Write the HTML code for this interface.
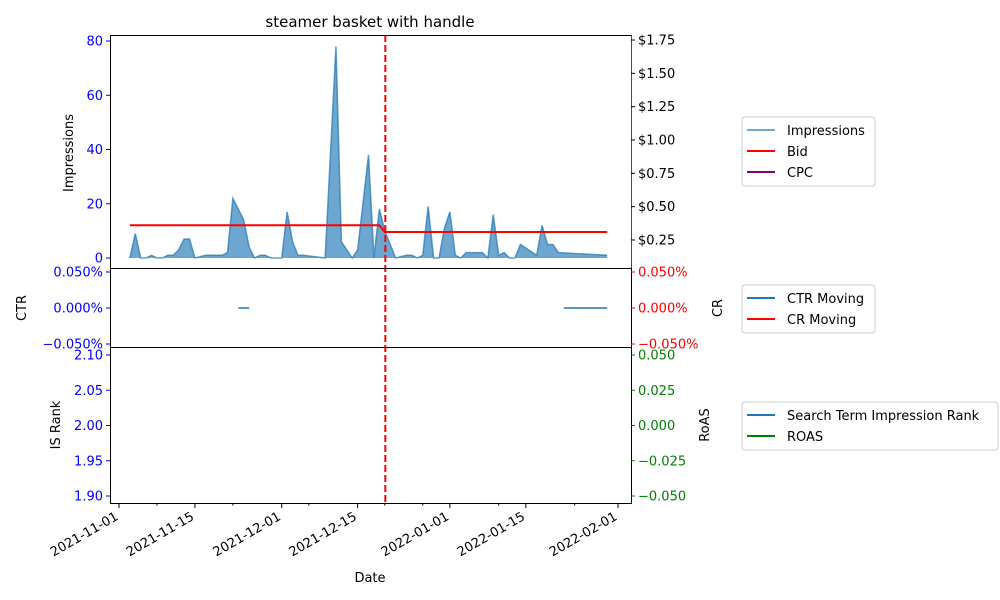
<!DOCTYPE html>
<html><head><meta charset="utf-8">
<style>
body{margin:0;background:#fff;}
svg{display:block;font-family:"DejaVu Sans","Liberation Sans",sans-serif;}
</style></head>
<body>
<svg id="c" width="1000" height="600" viewBox="0 0 1000 600"></svg>
<script>
// ---- data ----
const impDays = [2,3,4,5,6,7,8,9,10,11,12,13,14,16,19,20,21,23,24,25,26,27,28,30,31,32,33,34,38,40,41,43,44,46,47,48,49,51,53,54,55,56,57,58,59,60,61,62,63,64,67,68,69,70,71,72,73,74,77,78,79,80,81,90];
const impVals = [0,9,0,0,1,0,0,1,1,3,7,7,0,1,1,2,22,14,4,0,1,1,0,0,17,6,1,1,0,78,6,0,3,38,0,18,10,0,1,1,0,1,19,0,0,11,17,1,0,2,2,0,16,1,2,0,0,5,1,12,5,5,2,1];
const bidDays = [2,48,49,90];
const bidVals = [0.36,0.36,0.31,0.31];
const ctrSegStart = [22,82];
const ctrSegEnd = [24,90];
const ctrSegVal = [0,0];
const markerDay = 49.1;
const xTickDays = [0,14,30,44,61,75,92];
const xTickLabels = ["2021-11-01","2021-11-15","2021-12-01","2021-12-15","2022-01-01","2022-01-15","2022-02-01"];
const impTicks = [0,20,40,60,80];
const bidTicks = [0.25,0.5,0.75,1.0,1.25,1.5,1.75];
const pctTicks = [0.05,0,-0.05];
const rankTicks = [1.90,1.95,2.00,2.05,2.10];
const roasTicks = [-0.05,-0.025,0,0.025,0.05];

// ---- scales ----
const L=110,R=631;
const X=d=>119+d*5.424;
const T1=35,B1=268,T2=268,B2=347,T3=347,B3=503;
const yImp=v=>258-v*2.7125;
const yBid=v=>273.3-v*133.3;
const yPct=v=>308-v*720;
const yRank=v=>425.5-(v-2)*705;
const yRoas=v=>425.5-v*1410;
const FS=13;

const svg=document.getElementById('c');
const NS='http://www.w3.org/2000/svg';
function mk(tag,attrs,parent){const e=document.createElementNS(NS,tag);for(const k in attrs)e.setAttribute(k,attrs[k]);(parent||svg).appendChild(e);return e;}
function txt(s,attrs,parent){const e=mk('text',attrs,parent);e.textContent=s;return e;}

let t=txt('steamer basket with handle',{x:370,y:27,'text-anchor':'middle','font-size':15});


let pts=impDays.map((d,i)=>X(d)+','+yImp(impVals[i]));
let area=mk('polygon',{points:X(impDays[0])+','+yImp(0)+' '+pts.join(' ')+' '+X(impDays[impDays.length-1])+','+yImp(0),fill:'#1f77b4','fill-opacity':0.65,stroke:'none'});

let iline=mk('polyline',{points:pts.join(' '),fill:'none',stroke:'#1f77b4','stroke-opacity':0.7,'stroke-width':1.5});

let bl=mk('polyline',{points:bidDays.map((d,i)=>X(d)+','+yBid(bidVals[i])).join(' '),fill:'none',stroke:'#ff0000','stroke-width':2});

for(let i=0;i<ctrSegStart.length;i++){
  let l=mk('line',{x1:X(ctrSegStart[i]),x2:X(ctrSegEnd[i]),y1:yPct(ctrSegVal[i]),y2:yPct(ctrSegVal[i]),stroke:'#1f77b4','stroke-width':1.5});
  
}
let m=mk('line',{x1:X(markerDay),x2:X(markerDay),y1:T1,y2:B3,stroke:'#ff0000','stroke-width':2,'stroke-dasharray':'7,3'});


[[T1,B1,'top-panel-frame'],[T2,B2,'ctr-panel-frame'],[T3,B3,'rank-panel-frame']].forEach(p=>{
  let r=mk('rect',{x:L+0.5,y:p[0]+0.5,width:R-L,height:p[1]-p[0],fill:'none',stroke:'#000','stroke-width':1});
  
});
mk('line',{x1:R+0.5,x2:R+0.5,y1:T1,y2:B1,stroke:'#ff0000','stroke-width':1});

function yAxis(ticks,f,side,color,fmt,name){
  const g=mk('g',{});
  
  ticks.forEach(v=>{const y=f(v);
    if(side==='L'){mk('line',{x1:L-4,x2:L,y1:y,y2:y,stroke:color},g);txt(fmt(v),{x:L-7,y:y+4.5,'text-anchor':'end','font-size':FS,fill:color},g);}
    else{mk('line',{x1:R,x2:R+4,y1:y,y2:y,stroke:color},g);txt(fmt(v),{x:R+7,y:y+4.5,'font-size':FS,fill:color},g);}
  });
}
yAxis(impTicks,yImp,'L','#0000ff',v=>v,'impressions-axis');
yAxis(bidTicks,yBid,'R','#000',v=>'$'+v.toFixed(2),'bid-axis');
yAxis(pctTicks,yPct,'L','#0000ff',v=>(v<0?'\u22120.050':v.toFixed(3))+'%','ctr-axis');
yAxis(pctTicks,yPct,'R','#ff0000',v=>(v<0?'\u22120.050':v.toFixed(3))+'%','cr-axis');
yAxis(rankTicks,yRank,'L','#0000ff',v=>v.toFixed(2),'rank-axis');
yAxis(roasTicks,yRoas,'R','#008000',v=>(v<0?'\u2212':'')+Math.abs(v).toFixed(3),'roas-axis');

function vt(s,x,y,name){let e=txt(s,{x:x,y:y,'text-anchor':'middle','font-size':FS,transform:`rotate(-90 ${x} ${y})`});}
vt('Impressions',73,153,'impressions-title');
vt('CTR',26,308,'ctr-title');
vt('CR',722,308,'cr-title');
vt('IS Rank',60,425,'rank-title');
vt('RoAS',709,425,'roas-title');
let dt=txt('Date',{x:370,y:582,'text-anchor':'middle','font-size':FS});

const xg=mk('g',{});
xTickDays.forEach((d,i)=>{const x=X(d);
  mk('line',{x1:x,x2:x,y1:B3,y2:B3+5,stroke:'#000'},xg);
  txt(xTickLabels[i],{x:x,y:B3+16,'text-anchor':'end','font-size':FS,transform:`rotate(-30 ${x} ${B3+16})`},xg);
});
for(let d=7;d<95;d+=7){if(xTickDays.some(k=>Math.abs(k-d)<3))continue;const x=X(d);mk('line',{x1:x,x2:x,y1:B3,y2:B3+2.5,stroke:'#000'},xg);}

function legend(x,y,w,items,name){
  const g=mk('g',{});
  mk('rect',{x:x,y:y,width:w,height:items.length*21+6,rx:3,fill:'#fff',stroke:'#ccc'},g);
  items.forEach((it,i)=>{const yy=y+13+i*21;
    mk('line',{x1:x+5,x2:x+33,y1:yy,y2:yy,stroke:it[1],'stroke-width':2},g);
    let e=txt(it[0],{x:x+45,y:yy+5,'font-size':FS},g);
    
  });
}
legend(742,117,133,[['Impressions','#6fa8d6'],['Bid','#ff0000'],['CPC','#800080']],'legend-top');
legend(742,285,133,[['CTR Moving','#1f77b4'],['CR Moving','#ff0000']],'legend-ctr');
legend(742,402,256,[['Search Term Impression Rank','#1f77b4'],['ROAS','#008000']],'legend-rank');
</script>
</body></html>
